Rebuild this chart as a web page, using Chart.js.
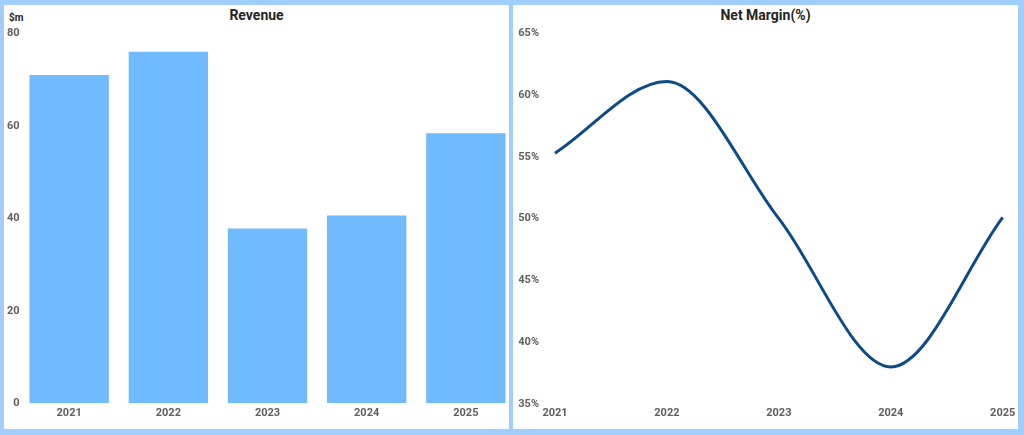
<!DOCTYPE html>
<html>
<head>
<meta charset="utf-8">
<script src="https://cdn.jsdelivr.net/npm/chart.js@4"></script>
<style>
  html, body { margin: 0; padding: 0; }
  body { width: 1024px; height: 435px; background: #a0cfff; position: relative; overflow: hidden; font-family: Roboto, 'Liberation Sans', sans-serif; }
  .panel { position: absolute; top: 5px; width: 505px; height: 424px; background: #fff; }
  .title { position: absolute; top: 2px; left: 0; width: 505px; text-align: center; font-size: 14px; line-height: 16px; font-weight: bold; color: #252423; }
  .unit { position: absolute; left: 5px; top: 8px; font-size: 10px; line-height: 10px; font-weight: bold; color: #252423; }
  canvas { position: absolute; top: 0; }
</style>
</head>
<body>
<div class="panel" style="left:4px"><div class="title">Revenue</div><div class="unit">$m</div></div>
<div class="panel" style="left:513px"><div class="title">Net Margin(%)</div></div>
<canvas id="revenue-chart" width="520" height="435" style="left:0"></canvas>
<canvas id="margin-chart" width="524" height="435" style="left:500px"></canvas>
<script>
const years = ['2021', '2022', '2023', '2024', '2025'];
const revenue = [71, 76, 37.8, 40.6, 58.4];
const netMargin = [55.3, 61.1, 50.0, 38.0, 50.1];
const revenueTicks = [0, 20, 40, 60, 80];
const marginTicks = [35, 40, 45, 50, 55, 60, 65];

const tickFont = { family: 'Roboto', size: 11, weight: 'bold' };
const tickColor = '#605e5c';

// fixed axis sizes so the plot area lines up with the panels
function fixWidth(w) { return scale => { scale.width = w; }; }
function fixHeight(h) { return scale => { scale.height = h; }; }

new Chart(document.getElementById('revenue-chart'), {
  type: 'bar',
  data: {
    labels: years,
    datasets: [{
      data: revenue,
      backgroundColor: '#70baff',
      borderWidth: 0,
      categoryPercentage: 1,
      barPercentage: 0.8
    }]
  },
  options: {
    responsive: false,
    animation: false,
    layout: { padding: { left: 0, right: 4.6, top: 33.3, bottom: 0 } },
    plugins: { legend: { display: false }, tooltip: { enabled: false } },
    scales: {
      x: {
        grid: { display: false, drawTicks: false },
        border: { display: false },
        ticks: { font: tickFont, color: tickColor, padding: 3, maxRotation: 0, autoSkip: false },
        afterFit: fixHeight(31.7)
      },
      y: {
        min: 0,
        max: 80,
        afterBuildTicks: scale => { scale.ticks = revenueTicks.map(v => ({ value: v })); },
        grid: { display: false, drawTicks: false },
        border: { display: false },
        ticks: { font: tickFont, color: tickColor, padding: 0 },
        afterFit: fixWidth(19.6)
      }
    }
  }
});

new Chart(document.getElementById('margin-chart'), {
  type: 'line',
  data: {
    labels: years,
    datasets: [{
      data: netMargin,
      borderColor: '#0d4b88',
      borderWidth: 3,
      pointRadius: 0,
      cubicInterpolationMode: 'monotone',
      fill: false
    }]
  },
  options: {
    responsive: false,
    animation: false,
    layout: { padding: { left: 18.3, right: 21.3, top: 33.3, bottom: 0 } },
    plugins: { legend: { display: false }, tooltip: { enabled: false } },
    scales: {
      x: {
        grid: { display: false, drawTicks: false },
        border: { display: false },
        ticks: { font: tickFont, color: tickColor, padding: 2.5, maxRotation: 0, autoSkip: false },
        afterFit: fixHeight(31)
      },
      y: {
        min: 35,
        max: 65,
        afterBuildTicks: scale => { scale.ticks = marginTicks.map(v => ({ value: v })); },
        grid: { display: false, drawTicks: false },
        border: { display: false },
        ticks: { font: tickFont, color: tickColor, crossAlign: 'far', callback: v => v + '%' },
        afterFit: fixWidth(36.7)
      }
    }
  }
});
</script>
</body>
</html>
